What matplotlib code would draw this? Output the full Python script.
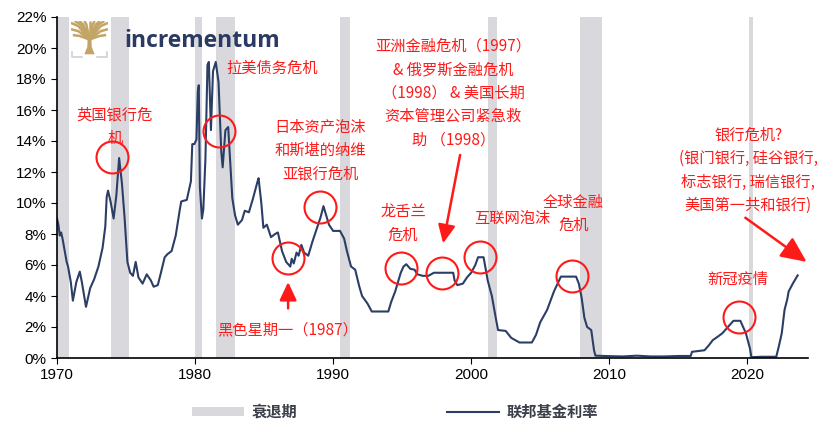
import numpy as np
import matplotlib
matplotlib.use('Agg')
import matplotlib.pyplot as plt
from matplotlib.patches import Patch, Polygon
from matplotlib.lines import Line2D

plt.rcParams['font.family'] = ['Liberation Sans', 'DejaVu Sans']
CJK = ['Noto Sans CJK SC', 'DejaVu Sans']

# effective fed funds rate, read at turning points (decimal year, %)
years = [1970.0, 1970.1, 1970.2, 1970.3, 1970.4, 1970.5, 1970.7, 1970.8, 1971.0, 1971.15,
         1971.4, 1971.65, 1971.8, 1972.1, 1972.4, 1972.7, 1973.0, 1973.3, 1973.5, 1973.6,
         1973.7, 1973.9, 1974.1, 1974.3, 1974.5, 1974.7, 1974.9, 1975.1, 1975.3, 1975.5,
         1975.7, 1975.9, 1976.2, 1976.5, 1976.8, 1977.0, 1977.3, 1977.5, 1977.8, 1978.0,
         1978.3, 1978.6, 1978.9, 1979.0, 1979.4, 1979.7, 1979.8, 1979.95, 1980.1, 1980.2,
         1980.27, 1980.35, 1980.5, 1980.6, 1980.75, 1980.9, 1981.0, 1981.15, 1981.3, 1981.5,
         1981.7, 1981.9, 1982.0, 1982.2, 1982.4, 1982.55, 1982.7, 1982.9, 1983.1, 1983.4,
         1983.6, 1983.9, 1984.2, 1984.5, 1984.6, 1984.8, 1984.95, 1985.2, 1985.5, 1985.8,
         1986.0, 1986.3, 1986.6, 1986.9, 1987.0, 1987.15, 1987.35, 1987.5, 1987.7, 1987.9,
         1988.2, 1988.5, 1988.8, 1989.1, 1989.3, 1989.5, 1989.7, 1990.0, 1990.5, 1990.8,
         1991.0, 1991.3, 1991.6, 1991.9, 1992.1, 1992.5, 1992.8, 1993.5, 1994.0, 1994.2,
         1994.5, 1994.9, 1995.1, 1995.3, 1995.6, 1995.9, 1996.1, 1996.5, 1996.9, 1997.3,
         1997.8, 1998.3, 1998.7, 1998.8, 1999.0, 1999.4, 1999.7, 2000.0, 2000.3, 2000.5,
         2000.9, 2001.0, 2001.2, 2001.5, 2001.8, 2001.95, 2002.5, 2002.9, 2003.5, 2004.4,
         2004.7, 2005.0, 2005.5, 2006.0, 2006.5, 2007.6, 2007.8, 2008.0, 2008.2, 2008.4,
         2008.7, 2008.9, 2009.0, 2010.0, 2011.0, 2012.0, 2013.0, 2014.0, 2015.0, 2015.9,
         2016.0, 2016.9, 2017.2, 2017.5, 2017.9, 2018.2, 2018.5, 2018.9, 2019.0, 2019.5,
         2019.7, 2019.9, 2020.2, 2020.3, 2021.0, 2022.1, 2022.3, 2022.5, 2022.7, 2022.9,
         2023.0, 2023.3, 2023.5, 2023.65]
rate = [9.0, 8.6, 7.9, 8.1, 7.7, 7.2, 6.2, 5.9, 4.9, 3.7,
        4.9, 5.57, 4.9, 3.3, 4.5, 5.1, 5.9, 7.1, 8.5, 10.4,
        10.8, 10.0, 9.0, 10.5, 12.9, 11.3, 9.0, 6.2, 5.5, 5.3,
        6.2, 5.2, 4.8, 5.4, 5.0, 4.6, 4.7, 5.4, 6.5, 6.7,
        6.9, 7.9, 9.6, 10.1, 10.2, 11.4, 13.8, 13.8, 14.1, 17.2,
        17.6, 11.0, 9.0, 9.6, 12.8, 18.9, 19.1, 14.7, 18.5, 19.1,
        17.8, 13.3, 12.3, 14.7, 14.9, 12.6, 10.3, 9.2, 8.6, 8.9,
        9.5, 9.4, 10.3, 11.3, 11.6, 10.0, 8.4, 8.6, 7.8, 8.0,
        8.1, 6.9, 6.2, 5.9, 6.4, 6.1, 6.8, 6.6, 7.3, 6.8,
        6.6, 7.5, 8.3, 9.1, 9.8, 9.2, 8.6, 8.2, 8.2, 7.7,
        6.9, 5.9, 5.7, 4.6, 4.0, 3.5, 3.0, 3.0, 3.0, 3.6,
        4.3, 5.5, 5.9, 6.05, 5.75, 5.7, 5.4, 5.3, 5.3, 5.5,
        5.5, 5.5, 5.5, 5.0, 4.7, 4.8, 5.2, 5.5, 6.0, 6.5,
        6.5, 6.0, 5.0, 4.0, 2.5, 1.8, 1.75, 1.3, 1.0, 1.0,
        1.5, 2.3, 3.1, 4.3, 5.25, 5.25, 4.8, 3.9, 2.6, 2.0,
        1.8, 0.5, 0.15, 0.12, 0.1, 0.15, 0.1, 0.1, 0.13, 0.13,
        0.4, 0.5, 0.8, 1.15, 1.4, 1.6, 1.9, 2.3, 2.4, 2.4,
        2.0, 1.6, 0.6, 0.05, 0.08, 0.08, 0.8, 1.6, 3.1, 3.8,
        4.3, 4.8, 5.1, 5.33]

# NBER recessions (start, end)
rec_start = [1970.0, 1973.9, 1980.0, 1981.5, 1990.5, 2001.2, 2007.9, 2020.1]
rec_end = [1970.9, 1975.2, 1980.5, 1982.9, 1991.2, 2001.9, 2009.5, 2020.4]

# crisis markers (year, rate)
circ_x = [1974.0, 1981.74, 1986.74, 1989.06, 1994.93, 1997.9, 2000.65, 2007.32, 2019.42]
circ_y = [13.0, 14.65, 6.45, 9.74, 5.81, 5.48, 6.52, 5.29, 2.65]

navy = '#2c3e66'
red = '#ff1a1a'
grey = '#d9d9dd'

fig = plt.figure(figsize=(8.17, 4.26), dpi=100)
ax = fig.add_axes([57/817, 68/426, 751/817, 341/426])

for s, e in zip(rec_start, rec_end):
    ax.axvspan(s, e, color=grey, lw=0, zorder=0)

ax.plot(years, rate, color=navy, lw=1.5, zorder=2)
ax.plot(circ_x, circ_y, 'o', ms=23, mfc='none', mec=red, mew=1.5, zorder=3)

ax.set_xlim(1970, 2024.4)
ax.set_ylim(0, 22)
ax.set_xticks(range(1970, 2021, 10))
ax.set_yticks(range(0, 23, 2))
ax.set_yticklabels([f'{v}%' for v in range(0, 23, 2)])
ax.tick_params(labelsize=11, length=4, color='black', direction='out')
for sp in ['top', 'right']:
    ax.spines[sp].set_visible(False)
for sp in ['left', 'bottom']:
    ax.spines[sp].set_color('black')
    ax.spines[sp].set_linewidth(1.2)

tk = dict(color=red, fontsize=11, family=CJK, ha='center', va='center', linespacing=1.5)
ax.text(1974.2, 14.9, '英国银行危\n机', **tk)
ax.text(1985.6, 18.7, '拉美债务危机', **tk)
ax.text(1989.06, 13.4, '日本资产泡沫\n和斯堪的纳维\n亚银行危机', **tk)
ax.text(1986.67, 1.8, '黑色星期一（1987）', **tk)
ax.text(1995.07, 8.7, '龙舌兰\n危机', **tk)
ax.text(1998.7, 17.1, '亚洲金融危机（1997）\n& 俄罗斯金融危机\n（1998） & 美国长期\n资本管理公司紧急救\n助 （1998）', **tk)
ax.text(2002.97, 9.0, '互联网泡沫', **tk)
ax.text(2007.4, 9.3, '全球金融\n危机', **tk)
ax.text(2020.07, 12.1, '银行危机?\n(银门银行, 硅谷银行,\n标志银行, 瑞信银行,\n美国第一共和银行)', **tk)
ax.text(2019.3, 5.1, '新冠疫情', **tk)

arr = dict(arrowstyle='-|>,head_width=0.4,head_length=0.85', color=red, lw=1.8,
           shrinkA=0, shrinkB=0, mutation_scale=13)
big = dict(arr, arrowstyle='-|>,head_width=0.55,head_length=1.2')
ax.annotate('', xy=(1986.74, 4.9), xytext=(1986.74, 3.2), arrowprops=arr)
ax.annotate('', xy=(1997.97, 7.4), xytext=(1999.2, 13.1), arrowprops=arr)
ax.annotate('', xy=(2024.3, 6.2), xytext=(2019.86, 9.05), arrowprops=big)

# logo: gold tree mark + wordmark
lax = fig.add_axes([71/817, 1 - 58/426, 37/817, 37/426])
lax.set_xlim(0, 1)
lax.set_ylim(0, 1)
lax.axis('off')
gold = '#c2a465'
lax.add_patch(Polygon([[0.36, 0.1], [0.64, 0.1], [0.56, 0.3], [0.55, 0.55],
                       [0.45, 0.55], [0.44, 0.3]], color=gold, lw=0))
for bx, by in [(0.0, 0.95), (0.1, 1.0), (0.22, 1.0), (0.36, 1.0), (0.5, 1.0), (0.64, 1.0),
               (0.78, 1.0), (0.9, 1.0), (1.0, 0.95), (0.0, 0.78), (1.0, 0.78),
               (0.05, 0.62), (0.95, 0.62)]:
    lax.plot([0.5, 0.5 + (bx - 0.5) * 0.6, bx], [0.5, 0.5 + (by - 0.5) * 0.8, by],
             color=gold, lw=1.8, solid_capstyle='butt')
lax.plot([0.02, 0.02, 0.3], [0.15, 0.02, 0.02], color='#d0d0d0', lw=1.2)
lax.plot([0.7, 0.98, 0.98], [0.02, 0.02, 0.15], color='#d0d0d0', lw=1.2)
fig.text(124/817, 1 - 41/426, 'incrementum', color='#2b3a63', fontsize=16.5,
         family=['Open Sans', 'DejaVu Sans'], fontweight='bold', va='center', ha='left')

handles = [Patch(color=grey, lw=0), Line2D([], [], color=navy, lw=1.5)]
fig.legend(handles, ['衰退期', '联邦基金利率'], loc='center', bbox_to_anchor=(0.484, 0.033),
           ncol=2, frameon=False, columnspacing=9.8, handlelength=3.4, handleheight=0.6,
           handletextpad=0.5, prop=dict(family=CJK, size=11, weight='bold'),
           labelcolor='#3a3f4a')

fig.savefig('out.png', dpi=100)
